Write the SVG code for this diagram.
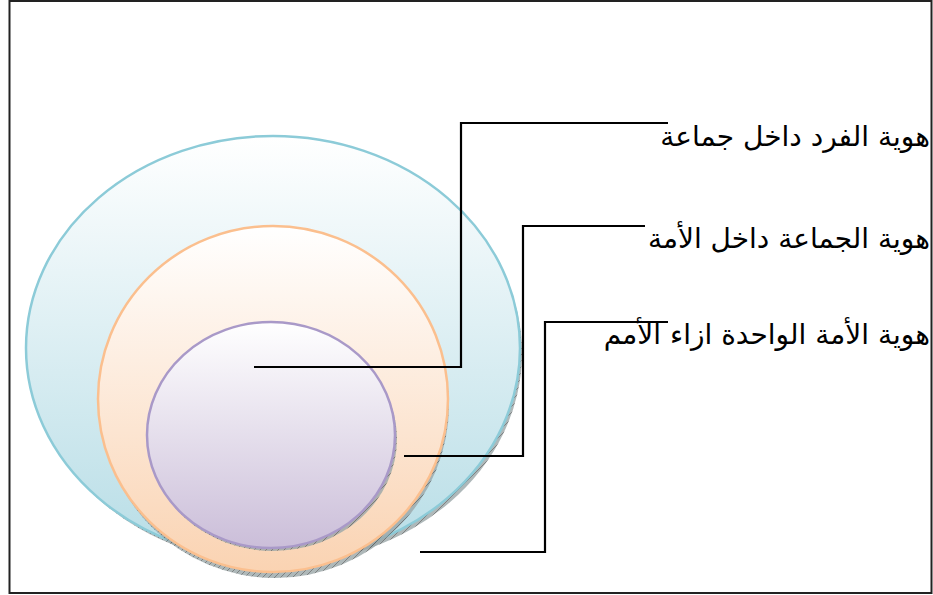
<svg xmlns="http://www.w3.org/2000/svg" width="933" height="595" viewBox="0 0 933 595">
<defs>
<linearGradient id="gBlue" x1="0" y1="0" x2="0" y2="1"><stop offset="0" stop-color="#ffffff"/><stop offset="1" stop-color="#b7dde6"/></linearGradient>
<linearGradient id="gOrange" x1="0" y1="0" x2="0" y2="1"><stop offset="0" stop-color="#ffffff"/><stop offset="1" stop-color="#fad3b2"/></linearGradient>
<linearGradient id="gPurple" x1="0" y1="0" x2="0" y2="1"><stop offset="0" stop-color="#ffffff"/><stop offset="1" stop-color="#cbbed9"/></linearGradient>
<pattern id="hatch" width="6" height="6" patternUnits="userSpaceOnUse"><rect width="6" height="6" fill="#9aa6a8"/><path d="M0 6 L6 0" stroke="#444" stroke-width="0.7"/></pattern>
</defs>
<style>
.frame{fill:#fff;stroke:#222;stroke-width:2}
.shadow{fill:url(#hatch);opacity:0.8}
.conn{fill:none;stroke:#000;stroke-width:2.2}
.lbl{font-family:"DejaVu Sans","Liberation Sans",sans-serif;font-size:28px;fill:#000}
</style>
<rect class="frame" x="9.5" y="1" width="922" height="592"/>
<g id="outer">
<ellipse class="shadow" cx="276" cy="353" rx="246" ry="211"/>
<ellipse cx="273" cy="348" rx="247" ry="212" fill="url(#gBlue)" stroke="#8ccbd8" stroke-width="2.5"/>
</g>
<g id="middle">
<ellipse class="shadow" cx="275" cy="405" rx="174" ry="173"/>
<ellipse cx="273" cy="399" rx="175" ry="173" fill="url(#gOrange)" stroke="#fbbf8e" stroke-width="2.5"/>
</g>
<g id="inner">
<ellipse class="shadow" cx="273" cy="439" rx="124" ry="112"/>
<ellipse cx="271" cy="435" rx="124" ry="113" fill="url(#gPurple)" stroke="#a999c8" stroke-width="2.5"/>
</g>
<g id="connectors">
<polyline class="conn" points="254,367 461,367 461,123 668,123"/>
<polyline class="conn" points="404,456 523,456 523,226 645,226"/>
<polyline class="conn" points="420,552 545,552 545,322 668,322"/>
</g>
<g id="label1"><text class="lbl" x="930" y="146" text-anchor="end">هوية الفرد داخل جماعة</text></g>
<g id="label2"><text class="lbl" x="930" y="248" text-anchor="end">هوية الجماعة داخل الأمة</text></g>
<g id="label3"><text class="lbl" x="930" y="344" text-anchor="end">هوية الأمة الواحدة ازاء الأمم</text></g>
</svg>
